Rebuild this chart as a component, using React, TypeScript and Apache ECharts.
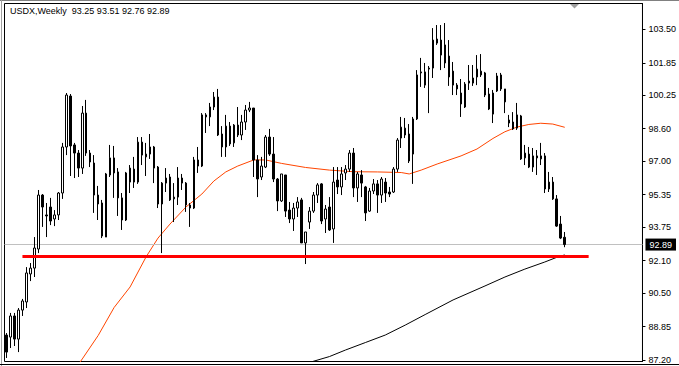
import { useEffect, useRef } from 'react';
import * as echarts from 'echarts';

const symbolName = 'USDX,Weekly';
const weekSlots = 160;
const categories = Array.from({ length: weekSlots }, (_, i) => `W${i + 1}`);

const weekOpen = [
  88.43, 88.33, 89.37, 88.23, 89.66, 90.06, 91.44, 91.73, 92.67, 95.33,
  94.35, 94.74, 94.15, 94.35, 95.43, 97.70, 100.21, 97.80, 97.40, 96.66,
  99.37, 97.40, 96.91, 95.33, 94.94, 93.26, 96.32, 97.16, 96.47, 95.19,
  94.10, 95.97, 96.61, 95.97, 97.94, 97.21, 97.35, 97.70, 96.71, 94.89,
  95.92, 96.22, 95.14, 95.23, 96.17, 95.92, 94.84, 94.69, 97.06, 96.76,
  99.18, 99.18, 99.67, 100.16, 98.34, 97.70, 98.73, 97.90, 98.78, 98.29,
  98.93, 99.52, 99.62, 97.06, 96.22, 96.71, 98.19, 97.35, 96.12, 95.04,
  96.32, 94.59, 94.15, 94.69, 95.09, 92.97, 94.00, 94.54, 95.33, 95.88,
  94.15, 94.74, 93.66, 96.07, 95.73, 96.42, 96.61, 97.40, 95.68, 96.32,
  95.73, 94.54, 95.53, 95.88, 95.33, 95.97, 95.48, 95.48, 96.61, 98.14,
  98.29, 98.34, 97.35, 99.08, 101.35, 101.40, 101.54, 101.59, 102.82, 102.97,
  102.73, 102.18, 101.44, 100.75, 100.36, 99.67, 100.85, 100.85, 101.15, 101.25,
  101.35, 100.31, 99.32, 100.46, 101.25, 100.56, 98.88, 98.93, 98.63, 99.23,
  97.16, 97.35, 96.71, 97.26, 97.11, 97.26, 95.63, 95.97, 95.14, 93.90,
  93.25,
];

const weekClose = [
  87.59, 89.37, 88.23, 89.66, 90.11, 91.49, 91.73, 92.72, 95.33, 94.74,
  94.30, 94.05, 94.35, 95.43, 97.70, 100.26, 97.75, 97.40, 96.66, 99.37,
  97.40, 96.96, 95.33, 94.89, 93.31, 96.37, 97.16, 96.42, 95.19, 94.10,
  96.42, 96.66, 95.97, 97.94, 97.30, 97.35, 97.70, 96.66, 94.89, 95.92,
  96.17, 95.09, 95.23, 96.17, 95.92, 94.84, 94.69, 97.06, 96.76, 99.28,
  99.28, 99.67, 100.16, 98.29, 97.70, 98.73, 97.85, 98.78, 98.29, 98.93,
  99.52, 99.62, 97.06, 96.12, 96.76, 98.19, 97.35, 96.12, 95.04, 96.37,
  94.54, 94.15, 94.69, 94.99, 92.97, 93.51, 94.54, 95.33, 95.83, 94.05,
  94.64, 93.61, 95.97, 95.73, 96.37, 96.61, 97.40, 95.68, 96.37, 95.92,
  94.45, 95.53, 95.88, 95.33, 96.12, 95.43, 95.38, 96.61, 98.04, 98.68,
  98.63, 97.01, 99.08, 101.25, 101.40, 100.75, 101.59, 102.97, 103.02, 102.23,
  101.84, 101.15, 100.75, 100.56, 99.82, 100.80, 100.95, 101.10, 101.54, 101.44,
  100.26, 99.57, 100.36, 101.20, 100.56, 99.92, 99.03, 98.59, 99.28, 97.11,
  97.40, 96.71, 97.26, 97.16, 97.26, 95.63, 95.97, 95.14, 93.80, 93.21,
  92.89,
];

const weekLow = [
  87.30, 87.79, 87.89, 87.59, 89.37, 89.76, 91.09, 91.29, 92.47, 93.76,
  93.26, 93.85, 93.80, 94.10, 95.14, 97.30, 96.27, 96.17, 96.22, 96.37,
  97.26, 96.71, 94.45, 94.10, 93.21, 93.26, 96.22, 95.19, 94.30, 93.61,
  94.05, 95.43, 95.68, 95.88, 96.81, 96.27, 97.11, 95.92, 94.69, 92.47,
  95.48, 95.04, 94.00, 94.84, 95.58, 94.50, 93.76, 94.64, 96.42, 96.71,
  98.39, 98.73, 99.52, 98.24, 97.21, 97.21, 97.75, 97.70, 98.19, 98.04,
  98.54, 99.42, 96.22, 95.23, 96.07, 96.66, 97.26, 95.97, 94.54, 94.99,
  94.25, 93.95, 93.56, 94.25, 92.97, 91.93, 93.66, 94.45, 94.94, 93.90,
  93.46, 93.56, 92.97, 95.38, 95.33, 96.07, 96.47, 95.23, 94.99, 95.23,
  94.05, 94.50, 95.38, 94.45, 94.94, 94.99, 95.23, 95.43, 96.47, 97.65,
  98.14, 96.91, 95.88, 99.03, 100.66, 100.61, 99.37, 101.10, 102.73, 101.49,
  101.59, 100.71, 100.26, 100.26, 99.18, 99.62, 100.51, 100.71, 100.75, 101.15,
  100.16, 99.52, 98.88, 100.41, 100.46, 99.37, 98.68, 98.54, 98.54, 97.06,
  96.81, 96.66, 96.47, 96.32, 96.81, 95.43, 95.48, 95.09, 93.76, 93.16,
  92.76,
];

const weekHigh = [
  88.53, 89.52, 89.52, 89.76, 90.21, 91.78, 91.98, 93.26, 95.58, 95.38,
  94.94, 95.19, 94.59, 95.48, 97.90, 100.36, 100.31, 97.90, 97.55, 99.72,
  100.02, 97.55, 97.30, 95.78, 95.09, 96.42, 97.80, 97.75, 96.66, 95.43,
  96.47, 96.81, 97.21, 98.19, 98.19, 97.90, 98.34, 97.75, 96.76, 95.97,
  96.66, 96.37, 95.92, 96.71, 96.37, 95.97, 94.94, 97.21, 97.70, 99.37,
  99.37, 99.87, 100.41, 100.56, 98.73, 99.28, 98.93, 98.83, 99.67, 99.28,
  99.77, 99.92, 99.62, 97.30, 97.21, 98.29, 98.59, 98.19, 96.17, 96.37,
  96.32, 94.99, 94.94, 95.23, 95.19, 93.51, 94.74, 95.48, 95.92, 95.92,
  94.84, 95.23, 96.71, 96.71, 96.71, 96.81, 97.55, 97.65, 96.47, 96.56,
  95.78, 95.68, 96.12, 96.07, 96.22, 96.17, 95.73, 96.71, 98.14, 99.18,
  99.13, 98.83, 99.18, 101.49, 102.09, 101.84, 101.69, 103.56, 103.71, 103.71,
  103.81, 102.97, 101.89, 100.85, 101.05, 100.90, 101.74, 101.74, 102.23, 102.28,
  101.40, 100.61, 100.51, 101.35, 101.35, 100.56, 99.28, 99.42, 99.87, 99.28,
  97.80, 97.70, 97.65, 97.55, 97.90, 97.40, 96.47, 96.22, 95.33, 94.30,
  93.51,
];

// Orange moving average, read at these week indices
const maFastIdx = [18, 19, 23, 27, 31, 35, 38, 41, 45, 49, 52, 55, 58, 62, 65, 69, 75, 81, 87, 93, 99, 101, 104, 108, 114, 118, 122, 125, 128, 131, 134, 137, 140];
const maFastVal = [86.98, 87.25, 88.41, 89.79, 90.80, 92.28, 93.21, 93.90, 94.74, 95.38, 96.02, 96.47, 96.76, 97.06, 97.06, 96.89, 96.69, 96.56, 96.48, 96.47, 96.44, 96.37, 96.56, 96.86, 97.26, 97.60, 98.12, 98.45, 98.68, 98.81, 98.87, 98.83, 98.67];

// Black moving average
const maSlowIdx = [76, 81, 85, 90, 95, 100, 105, 112, 120, 125, 130, 135, 138, 140];
const maSlowVal = [87.08, 87.37, 87.69, 88.06, 88.43, 88.92, 89.44, 90.16, 90.85, 91.29, 91.68, 92.03, 92.26, 92.38];

// Red horizontal support line
const supportLevel = 92.30;
const supportFrom = 4;
const supportTo = 146;

const yTickLabels = ['87.20', '88.85', '90.50', '92.10', '93.75', '95.35', '97.00', '98.60', '100.25', '101.85', '103.50'];
const yTickValues = yTickLabels.map(Number);

const FONT = 'Liberation Sans';

export default function App() {
  const ref = useRef<HTMLDivElement>(null);

  useEffect(() => {
    if (!ref.current) return;
    const chart = echarts.init(ref.current, undefined, { renderer: 'svg' });
    const last = weekOpen.length - 1;
    const lastClose = weekClose[last];
    const titleText = `${symbolName}  ${weekOpen[last].toFixed(2)} ${weekHigh[last].toFixed(2)} ${weekLow[last].toFixed(2)} ${lastClose.toFixed(2)}`;

    const candles = weekOpen.map((o, i) => [o, weekClose[i], weekLow[i], weekHigh[i]]);

    chart.setOption({
      animation: false,
      backgroundColor: '#fff',
      title: {
        text: titleText,
        left: 10,
        top: 6,
        padding: 0,
        textStyle: { fontFamily: FONT, fontSize: 9, fontWeight: 'normal', color: '#000' },
      },
      grid: {
        left: 4.5,
        top: 3.5,
        width: 640,
        height: 358,
        show: true,
        borderColor: '#000',
        borderWidth: 1,
        backgroundColor: '#fff',
      },
      xAxis: {
        type: 'category',
        data: categories,
        boundaryGap: true,
        axisLine: { show: false },
        axisTick: { show: false },
        axisLabel: { show: false },
        splitLine: { show: false },
      },
      yAxis: {
        type: 'value',
        position: 'right',
        min: 87.126,
        max: 104.772,
        splitLine: { show: false },
        axisLine: { show: true, lineStyle: { color: '#000', width: 1 } },
        axisTick: { show: true, length: 3, lineStyle: { color: '#000' }, customValues: yTickValues },
        axisLabel: {
          customValues: yTickValues,
          formatter: (v: number) => v.toFixed(2),
          margin: 6,
          color: '#000',
          fontSize: 9,
          fontFamily: FONT,
        },
      },
      series: [
        {
          type: 'line',
          name: 'MA slow',
          data: maSlowIdx.map((x, i) => [x, maSlowVal[i]]),
          showSymbol: false,
          symbol: 'none',
          connectNulls: true,
          lineStyle: { color: '#000', width: 1 },
          z: 1,
          markLine: {
            silent: true,
            symbol: ['none', 'none'],
            z: 10,
            label: { show: false },
            lineStyle: { color: '#ff0000', width: 3, type: 'solid' },
            data: [[{ coord: [supportFrom, supportLevel] }, { coord: [supportTo, supportLevel] }]],
          },
        },
        {
          type: 'line',
          name: 'MA fast',
          data: maFastIdx.map((x, i) => [x, maFastVal[i]]),
          showSymbol: false,
          symbol: 'none',
          lineStyle: { color: '#ff4500', width: 1 },
          z: 1,
        },
        {
          type: 'candlestick',
          name: symbolName,
          data: candles,
          barWidth: 2,
          z: 3,
          itemStyle: {
            color: '#fff',
            color0: '#000',
            borderColor: '#000',
            borderColor0: '#000',
            borderWidth: 1,
          },
          markLine: {
            silent: true,
            symbol: ['none', 'none'],
            z: 2,
            lineStyle: { color: '#c0c0c0', width: 1, type: 'solid' },
            label: {
              show: true,
              position: 'end',
              distance: 3,
              formatter: lastClose.toFixed(2),
              color: '#fff',
              backgroundColor: '#000',
              padding: [2, 4, 1, 4],
              fontSize: 9,
              fontFamily: FONT,
            },
            data: [{ yAxis: lastClose }],
          },
        },
      ],
      graphic: [
        { type: 'line', silent: true, shape: { x1: 0, y1: 0.5, x2: 679, y2: 0.5 }, style: { stroke: '#808080', lineWidth: 1 } },
        { type: 'line', silent: true, shape: { x1: 1.5, y1: 0, x2: 1.5, y2: 366 }, style: { stroke: '#a0a0a0', lineWidth: 1 } },
        { type: 'line', silent: true, shape: { x1: 0, y1: 364.5, x2: 679, y2: 364.5 }, style: { stroke: '#000', lineWidth: 1 } },
        { type: 'polygon', silent: true, shape: { points: [[570, 4], [579, 4], [574.5, 8.5]] }, style: { fill: '#a0a0a0' } },
      ],
    });

    return () => chart.dispose();
  }, []);

  return (
    <div
      ref={ref}
      style={{ position: 'absolute', left: 0, top: 0, width: 679, height: 366, background: '#fff' }}
    />
  );
}
